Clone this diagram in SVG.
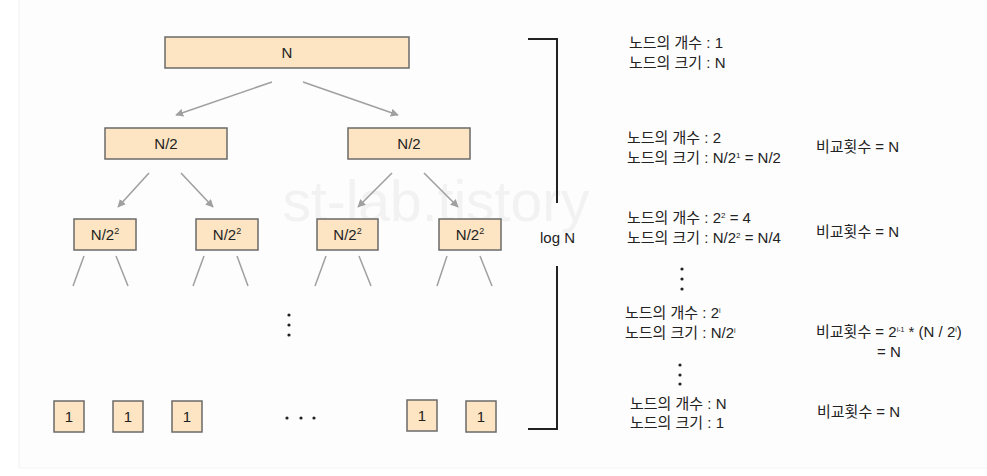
<svg xmlns="http://www.w3.org/2000/svg" width="987" height="476" viewBox="0 0 987 476">
<defs>
<style>
.box{fill:#fde5c3;stroke:#6a6a6a;stroke-width:1.5}
.bt{font-family:"Liberation Sans","Noto Sans CJK KR",sans-serif;font-size:15px;fill:#222;text-anchor:middle}
.t{font-family:"Liberation Sans","Noto Sans CJK KR",sans-serif;font-size:15px;fill:#222}
.arr{stroke:#a0a0a0;stroke-width:1.6;fill:none;marker-end:url(#ah)}
.ln{stroke:#a0a0a0;stroke-width:1.5;fill:none}
.br{stroke:#222;stroke-width:2;fill:none}
.dot{fill:#222}
</style>
<marker id="ah" viewBox="0 0 10 10" refX="9" refY="5" markerWidth="5" markerHeight="5" orient="auto" markerUnits="strokeWidth">
<path d="M0,0 L10,5 L0,10 z" fill="#a0a0a0"/>
</marker>
</defs>
<rect x="0" y="0" width="987" height="476" fill="#ffffff"/>
<rect x="19" y="0" width="968" height="468" fill="#fdfdfd"/>
<line x1="19" y1="0" x2="19" y2="468" stroke="#f1f1f1" stroke-width="1"/>
<line x1="19" y1="468" x2="987" y2="468" stroke="#f4f4f4" stroke-width="1"/>
<text x="436" y="221" font-family="Liberation Sans,sans-serif" font-size="57" fill="#f2f2f2" text-anchor="middle">st-lab.tistory</text>

<g id="connectors">
<line class="arr" x1="272" y1="82" x2="176" y2="115"/>
<line class="arr" x1="303" y1="82" x2="398" y2="115"/>
<line class="arr" x1="149" y1="173" x2="118" y2="207"/>
<line class="arr" x1="181" y1="173" x2="213" y2="207"/>
<line class="arr" x1="392" y1="173" x2="358" y2="207"/>
<line class="arr" x1="424" y1="173" x2="458" y2="207"/>
<line class="ln" x1="84" y1="256" x2="73" y2="286"/>
<line class="ln" x1="116" y1="256" x2="128" y2="286"/>
<line class="ln" x1="204" y1="256" x2="193" y2="286"/>
<line class="ln" x1="237" y1="256" x2="248" y2="286"/>
<line class="ln" x1="326" y1="256" x2="315" y2="286"/>
<line class="ln" x1="359" y1="256" x2="371" y2="286"/>
<line class="ln" x1="447" y1="256" x2="437" y2="286"/>
<line class="ln" x1="480" y1="256" x2="492" y2="286"/>
</g>

<g id="n-root"><rect class="box" x="165" y="37" width="244" height="31"/><text class="bt" x="287" y="58">N</text></g>
<g id="n-l"><rect class="box" x="105" y="128" width="122" height="31"/><text class="bt" x="166" y="149" font-size="16">N/2</text></g>
<g id="n-r"><rect class="box" x="348" y="128" width="122" height="31"/><text class="bt" x="409" y="149" font-size="16">N/2</text></g>
<g id="n-ll"><rect class="box" x="74" y="219" width="62" height="31"/><text class="bt" x="105" y="240">N/2<tspan dy="-6" font-size="9">2</tspan></text></g>
<g id="n-lr"><rect class="box" x="196" y="219" width="62" height="31"/><text class="bt" x="227" y="240">N/2<tspan dy="-6" font-size="9">2</tspan></text></g>
<g id="n-rl"><rect class="box" x="317" y="219" width="61" height="31"/><text class="bt" x="347.5" y="240">N/2<tspan dy="-6" font-size="9">2</tspan></text></g>
<g id="n-rr"><rect class="box" x="439" y="219" width="62" height="31"/><text class="bt" x="470" y="240">N/2<tspan dy="-6" font-size="9">2</tspan></text></g>

<g id="leaf1"><rect class="box" x="54" y="401" width="30" height="31"/><text class="bt" x="69" y="422">1</text></g>
<g id="leaf2"><rect class="box" x="113" y="401" width="30" height="31"/><text class="bt" x="128" y="422">1</text></g>
<g id="leaf3"><rect class="box" x="172" y="401" width="30" height="31"/><text class="bt" x="187" y="422">1</text></g>
<g id="leaf4"><rect class="box" x="407" y="400" width="30" height="31"/><text class="bt" x="422" y="421">1</text></g>
<g id="leaf5"><rect class="box" x="466" y="401" width="30" height="31"/><text class="bt" x="481" y="422">1</text></g>

<g id="dots">
<circle class="dot" cx="289" cy="315" r="1.6"/>
<circle class="dot" cx="289" cy="325" r="1.6"/>
<circle class="dot" cx="289" cy="335" r="1.6"/>
<circle class="dot" cx="287" cy="418" r="1.6"/>
<circle class="dot" cx="301" cy="418" r="1.6"/>
<circle class="dot" cx="314" cy="418" r="1.6"/>
<circle class="dot" cx="682" cy="269" r="1.6"/>
<circle class="dot" cx="682" cy="279" r="1.6"/>
<circle class="dot" cx="682" cy="289" r="1.6"/>
<circle class="dot" cx="680" cy="365" r="1.6"/>
<circle class="dot" cx="680" cy="375" r="1.6"/>
<circle class="dot" cx="680" cy="384" r="1.6"/>
</g>

<g id="bracket">
<path class="br" d="M528,39 H557 V203"/>
<path class="br" d="M557,266 V429 H528"/>
<text class="t" x="540" y="243" font-size="14">log N</text>
</g>

<g id="info">
<text class="t" x="629" y="48">노드의 개수 : 1</text>
<text class="t" x="629" y="68">노드의 크기 : N</text>
<text class="t" x="627" y="143">노드의 개수 : 2</text>
<text class="t" x="627" y="163">노드의 크기 : N/2<tspan dy="-5" font-size="8">1</tspan><tspan dy="5"> = N/2</tspan></text>
<text class="t" x="816" y="152">비교횟수 = N</text>
<text class="t" x="627" y="223">노드의 개수 : 2<tspan dy="-5" font-size="8">2</tspan><tspan dy="5"> = 4</tspan></text>
<text class="t" x="627" y="243">노드의 크기 : N/2<tspan dy="-5" font-size="8">2</tspan><tspan dy="5"> = N/4</tspan></text>
<text class="t" x="816" y="237">비교횟수 = N</text>
<text class="t" x="625" y="318">노드의 개수 : 2<tspan dy="-5" font-size="7">i</tspan></text>
<text class="t" x="625" y="338">노드의 크기 : N/2<tspan dy="-5" font-size="7">i</tspan></text>
<text class="t" x="816" y="337">비교횟수 = 2<tspan dy="-5" font-size="7">i-1</tspan><tspan dy="5"> * (N / 2</tspan><tspan dy="-5" font-size="7">i</tspan><tspan dy="5">)</tspan></text>
<text class="t" x="877" y="357">= N</text>
<text class="t" x="630" y="409">노드의 개수 : N</text>
<text class="t" x="630" y="428">노드의 크기 : 1</text>
<text class="t" x="817" y="417">비교횟수 = N</text>
</g>
</svg>
